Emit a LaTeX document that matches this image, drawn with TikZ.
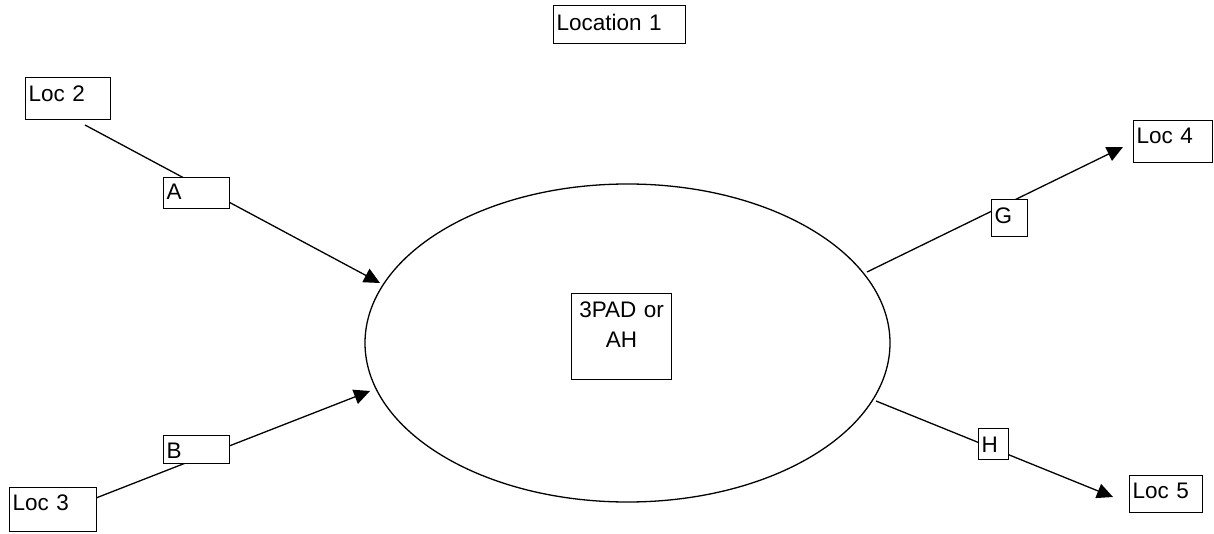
\documentclass[tikz,border=0pt]{standalone}
\usepackage{fontspec}
\setmainfont{Liberation Sans}
\usetikzlibrary{shapes.geometric,arrows.meta,backgrounds}
\begin{document}
\begin{tikzpicture}[x=1pt,y=-1pt,
  lbl/.style={draw, line width=1.2pt, fill=white, inner xsep=3pt, inner ysep=0pt,
    anchor=north west, align=left, font=\fontsize{22.5}{30}\selectfont},
  conn/.style={line width=1.3pt},
  arr/.style={conn, -{Triangle[length=16pt,width=15pt]}}]
\useasboundingbox (0,0) rectangle (1214,534);
\node[draw, ellipse, line width=1.3pt, inner sep=0pt, minimum width=525pt, minimum height=318pt] (ell) at (627.5,343) {};
\node[lbl, text width=126pt, text height=25pt, text depth=13pt] (loc1) at (553,5) {Location 1};
\node[lbl, text width=79pt, text height=24pt, text depth=18pt] (loc2) at (25,77) {Loc 2};
\node[lbl, text width=60pt, text height=22pt, text depth=9pt] (a) at (163,177) {A};
\node[lbl, text width=81pt, text height=23pt, text depth=21pt] (loc3) at (9,487) {Loc 3};
\node[lbl, text width=60pt, text height=23pt, text depth=5pt] (b) at (163,435) {B};
\node[lbl, text width=30pt, text height=24pt, text depth=13pt] (g) at (991,199) {G};
\node[lbl, text width=24pt, text height=24pt, text depth=7pt] (h) at (978,428) {H};
\node[lbl, text width=73pt, text height=23pt, text depth=19pt] (loc4) at (1133,120) {Loc 4};
\node[lbl, text width=67pt, text height=23pt, text depth=14pt] (loc5) at (1129,475) {Loc 5};
\node[lbl, align=center, text width=94pt, text height=24pt, text depth=62pt] (hub) at (571,293) {3PAD or\\AH};
\coordinate (a0) at (85,125);
\coordinate (a1) at (380,283);
\coordinate (b0) at (96,498);
\coordinate (b1) at (370,391);
\coordinate (g0) at (867,272);
\coordinate (g1) at (1123,147);
\coordinate (h0) at (876,401);
\coordinate (h1) at (1113,497);
\begin{scope}[on background layer]
\draw[arr] (a0) -- (a1);
\draw[arr] (b0) -- (b1);
\draw[arr] (g0) -- (g1);
\draw[arr] (h0) -- (h1);
\end{scope}
\end{tikzpicture}
\end{document}
